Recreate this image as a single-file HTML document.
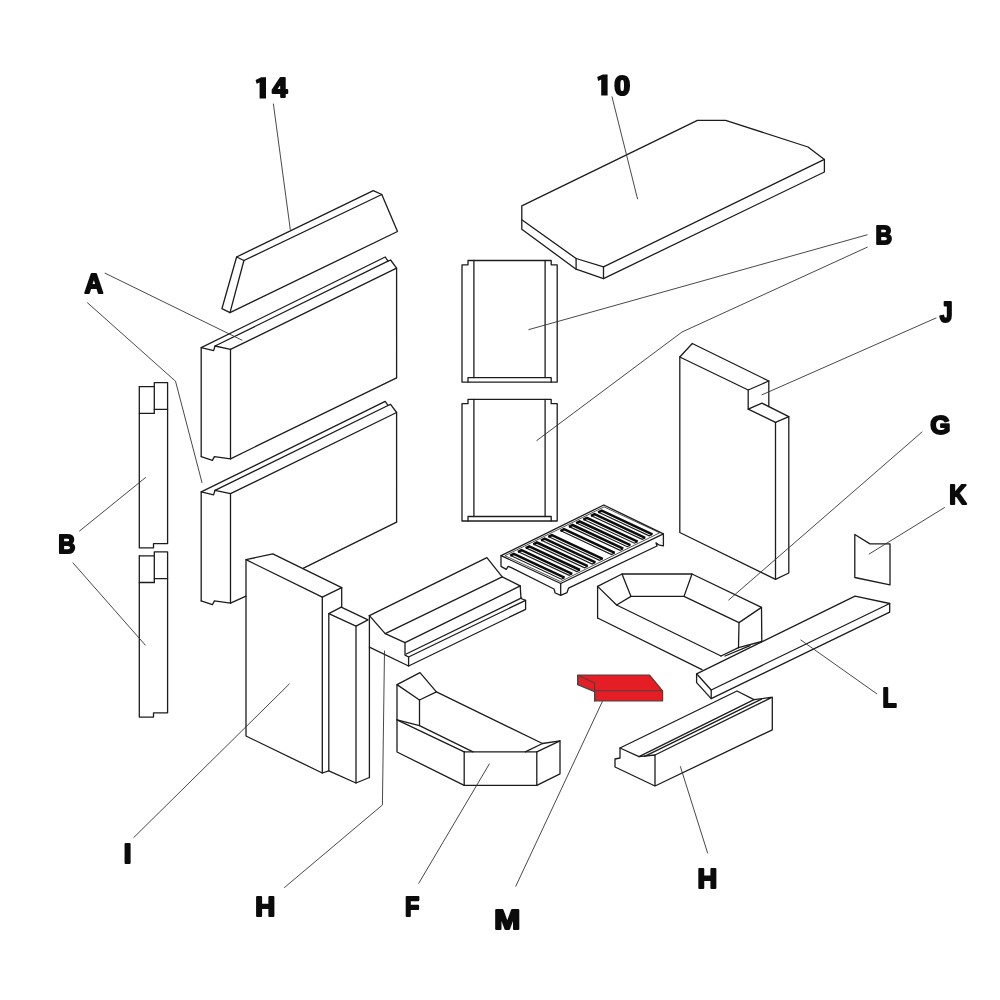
<!DOCTYPE html>
<html><head><meta charset="utf-8"><title>Diagram</title>
<style>
html,body{margin:0;padding:0;background:#fff;}
body{width:1000px;height:1000px;overflow:hidden;font-family:"Liberation Sans",sans-serif;}
svg{display:block}
.m{fill:none;stroke:#1c1c1c;stroke-width:1.3;stroke-linejoin:round;stroke-linecap:round}
.t{fill:none;stroke:#2a2a2a;stroke-width:.8;stroke-linejoin:round}
.s1{fill:none;stroke:#1a1a1a;stroke-width:1.2;stroke-linejoin:miter}
.s2{fill:none;stroke:#0c0c0c;stroke-width:2.5;stroke-linejoin:miter}
.l{fill:none;stroke:#333;stroke-width:.9;stroke-linecap:round}
.r{fill:#e51d25;stroke:#4d4040;stroke-width:1.2;stroke-linejoin:round}
.rl{fill:none;stroke:#4d4040;stroke-width:1.1;stroke-linecap:round}
text{font-family:"Liberation Sans",sans-serif;font-weight:bold;font-size:100px;fill:#0a0a0a;stroke:#0a0a0a;stroke-width:7.5;stroke-linejoin:round}
</style></head><body>
<svg width="1000" height="1000" viewBox="0 0 1000 1000">
<rect width="1000" height="1000" fill="#fff"/>

<path class="m" d="M236.6,257.0 L373.3,190.6 L381.8,194.5 L397.5,231.5 L230.0,312.7 L221.9,308.7 Z"/>
<path class="m" d="M236.6,257.0 L243.9,260.5"/>
<path class="m" d="M243.9,260.5 L381.8,194.5"/>
<path class="m" d="M243.9,260.5 L230.0,312.7"/>
<path class="m" d="M201.2,456.6 L201.2,347.6 L213.6,350.6 L215.0,346.0 L230.5,349.4"/>
<path class="m" d="M201.2,347.6 L385.2,257.0 L388.0,261.2 L390.6,260.0 L396.6,268.2"/>
<path class="m" d="M215.0,346.0 L388.0,261.2"/>
<path class="m" d="M230.5,349.4 L396.6,268.2 L396.6,377.8"/>
<path class="m" d="M230.5,349.4 L230.5,458.8"/>
<path class="m" d="M201.2,456.6 L212.4,460.4 L214.4,456.6 L230.5,458.8"/>
<path class="m" d="M230.5,458.8 L396.6,377.8"/>
<path class="m" d="M201.2,600.9 L201.2,491.9 L213.6,494.9 L215.0,490.3 L230.5,493.7"/>
<path class="m" d="M201.2,491.9 L385.2,401.3 L388.0,405.5 L390.6,404.3 L396.6,412.5"/>
<path class="m" d="M215.0,490.3 L388.0,405.5"/>
<path class="m" d="M230.5,493.7 L396.6,412.5 L396.6,522.1"/>
<path class="m" d="M230.5,493.7 L230.5,603.1"/>
<path class="m" d="M201.2,600.9 L212.4,604.7 L214.4,600.9 L230.5,603.1"/>
<path class="m" d="M230.5,603.1 L246.0,596.2"/>
<path class="m" d="M303.5,568.2 L396.6,522.1"/>
<path class="m" d="M139.3,386.6 L154.3,386.6"/>
<path class="m" d="M154.3,413.3 L154.3,382.6 L167.6,382.6 L167.6,543.6 L153.5,543.6 L153.5,547.9 L139.3,547.9 L139.3,386.6"/>
<path class="m" d="M139.3,413.3 L154.3,413.3"/>
<path class="m" d="M154.3,409.4 L167.6,409.4"/>
<path class="m" d="M139.3,555.8 L154.3,555.8"/>
<path class="m" d="M154.3,582.5 L154.3,551.8 L167.6,551.8 L167.6,712.8 L153.5,712.8 L153.5,717.1 L139.3,717.1 L139.3,555.8"/>
<path class="m" d="M139.3,582.5 L154.3,582.5"/>
<path class="m" d="M154.3,578.6 L167.6,578.6"/>
<path class="m" d="M462.0,382.1 L462.0,264.8 L468.0,264.8 L468.0,260.5 L551.2,260.5 L551.2,264.8 L557.2,264.8 L557.2,382.1 Z"/>
<path class="m" d="M473.9,260.5 L473.9,377.6"/>
<path class="m" d="M545.1,260.5 L545.1,377.6"/>
<path class="m" d="M468.0,382.1 L468.0,377.6 L551.2,377.6 L551.2,382.1"/>
<path class="m" d="M462.0,521.0 L462.0,403.7 L468.0,403.7 L468.0,399.4 L551.2,399.4 L551.2,403.7 L557.2,403.7 L557.2,521.0 Z"/>
<path class="m" d="M473.9,399.4 L473.9,516.5"/>
<path class="m" d="M545.1,399.4 L545.1,516.5"/>
<path class="m" d="M468.0,521.0 L468.0,516.5 L551.2,516.5 L551.2,521.0"/>
<path class="m" d="M521.8,205.8 L697.4,120.3 L725.6,120.3 L808.0,147.0 L824.4,159.4 L603.5,266.9 L576.1,258.5 L521.8,219.8 Z"/>
<path class="m" d="M521.8,219.8 L521.8,229.3 L576.1,269.2 L603.5,278.6 L824.4,172.0 L824.4,159.4"/>
<path class="m" d="M576.1,258.5 L576.1,269.2"/>
<path class="m" d="M603.5,266.9 L603.5,278.6"/>
<path class="m" d="M679.8,357.0 L692.3,343.5 L768.8,381.0 L748.2,390.0 Z"/>
<path class="m" d="M748.2,390.0 L748.2,409.2"/>
<path class="m" d="M768.8,381.0 L768.8,406.6"/>
<path class="m" d="M748.2,409.2 L762.0,403.2 L788.8,416.6 L775.5,422.3 Z"/>
<path class="m" d="M679.8,357.0 L679.8,532.5 L775.5,579.3 L788.8,573.0 L788.8,416.6"/>
<path class="m" d="M775.5,422.3 L775.5,579.3"/>
<path class="m" d="M854.8,534.5 L870.0,543.9 L890.0,543.9 L890.0,584.9 L854.8,577.5 Z"/>
<path class="m" d="M696.6,673.8 L855.0,596.2 L889.7,603.5 L711.2,690.0 Z"/>
<path class="m" d="M696.6,673.8 L696.6,682.6 L711.2,698.6 L889.7,612.2 L889.7,603.5"/>
<path class="m" d="M711.2,690.0 L711.2,698.6"/>
<path class="m" d="M597.6,586.4 L622.0,574.0 L692.0,574.0 L761.5,607.4 L739.0,622.6 L684.0,596.4 L631.0,596.4 L616.6,605.0 Z"/>
<path class="m" d="M622.0,574.0 L631.0,596.4"/>
<path class="m" d="M692.0,574.0 L684.0,596.4"/>
<path class="m" d="M616.6,605.0 L721.0,656.0"/>
<path class="m" d="M761.5,607.4 L761.8,641.5"/>
<path class="m" d="M739.0,622.6 L738.5,647.6"/>
<path class="m" d="M597.6,586.4 L597.6,618.0"/>
<path class="m" d="M597.6,618.0 L702.0,669.6"/>
<path class="m" d="M738.5,647.6 L761.8,641.5"/>
<path class="m" d="M721.0,656.0 L738.5,647.6"/>
<path class="m" d="M725.0,656.0 L750.0,645.6"/>
<path class="m" d="M655.0,786.0 L615.0,767.0 L615.0,759.0 L620.0,758.0 L620.0,748.0 L737.0,691.0 L754.0,699.6 L772.3,697.2 L772.3,729.8 L655.0,786.0 L655.0,755.0 L772.3,697.2"/>
<path class="m" d="M620.0,748.0 L639.0,756.6 L655.0,755.0"/>
<path class="m" d="M639.0,756.6 L754.0,699.6"/>
<path class="m" d="M644.6,756.4 L761.5,699.2"/>
<path class="m" d="M246.0,559.7 L272.8,553.8 L341.7,587.6 L322.3,597.1 Z"/>
<path class="m" d="M246.0,559.7 L246.0,736.0 L322.3,773.0 L322.3,597.1"/>
<path class="m" d="M341.7,587.6 L341.7,607.2"/>
<path class="m" d="M328.8,613.6 L341.2,607.2 L368.0,619.8 L356.0,626.1 Z"/>
<path class="m" d="M322.3,773.0 L328.8,770.8 L328.8,613.6"/>
<path class="m" d="M328.8,770.8 L356.0,783.0 L369.4,777.5"/>
<path class="m" d="M356.0,626.1 L356.0,783.0"/>
<path class="m" d="M369.4,615.6 L486.9,557.6 L502.2,576.9 L520.2,585.9 L521.0,598.5 L525.6,600.3 L525.6,609.3 L408.6,666.0 L369.4,647.1"/>
<path class="m" d="M369.4,615.6 L369.4,777.5"/>
<path class="m" d="M369.4,615.6 L385.2,633.6 L405.0,642.6 L405.0,655.2 L408.6,657.0 L408.6,666.0"/>
<path class="m" d="M385.2,633.6 L502.2,576.9"/>
<path class="m" d="M405.0,642.6 L520.2,585.9"/>
<path class="m" d="M406.2,654.0 L521.6,597.9"/>
<path class="m" d="M408.6,657.0 L525.6,600.3"/>
<path class="m" d="M397.0,684.6 L420.0,672.6 L436.4,691.8 L419.5,700.0 Z"/>
<path class="m" d="M419.5,700.0 L419.5,725.6"/>
<path class="m" d="M397.0,719.8 L419.5,725.6 L473.0,751.8"/>
<path class="m" d="M397.0,719.8 L464.2,751.8"/>
<path class="m" d="M397.0,684.6 L397.0,752.0 L464.2,785.4 L536.8,785.4 L560.0,773.8 L560.0,740.8 L536.8,751.8 L464.2,751.8"/>
<path class="m" d="M464.2,751.8 L464.2,785.4"/>
<path class="m" d="M536.8,751.8 L536.8,785.4"/>
<path class="m" d="M436.4,691.8 L542.5,743.5"/>
<path class="m" d="M542.5,743.5 L560.0,740.8"/>
<path class="m" d="M525.3,751.8 L542.5,743.5"/>
<path class="m" d="M501.0,555.6 L603.8,505.0 L663.4,533.9 L560.7,583.5 Z"/>
<path class="m" d="M501.0,555.6 L501.0,566.4 L506.2,569.4 L508.2,566.3 L510.8,567.4 L554.0,589.0 L555.2,593.0 L560.7,595.4 L567.0,592.6 L568.5,588.2 L657.0,546.0 L656.0,542.8 L658.6,544.8 L663.4,545.8 L663.4,533.9"/>
<path class="m" d="M560.7,583.5 L560.7,595.4"/>
<path class="t" d="M504.9,555.7 L604.0,506.9 L659.6,532.8 L560.5,581.6 Z"/>
<path class="s1" d="M510.6,555.5 L561.4,579.2 L564.5,577.6"/>
<path class="s2" d="M510.2,555.7 L513.8,553.9 L564.5,577.6"/>
<path class="s1" d="M518.3,551.7 L569.1,575.4 L572.2,573.8"/>
<path class="s2" d="M517.9,551.9 L521.5,550.1 L572.2,573.8"/>
<path class="s1" d="M526.0,547.9 L576.8,571.6 L580.0,570.0"/>
<path class="s2" d="M525.6,548.1 L529.2,546.3 L580.0,570.0"/>
<path class="s1" d="M533.7,544.1 L584.5,567.8 L587.7,566.2"/>
<path class="s2" d="M533.3,544.3 L536.9,542.5 L587.7,566.2"/>
<path class="s1" d="M541.4,540.3 L592.2,564.0 L595.4,562.4"/>
<path class="s2" d="M541.0,540.5 L544.6,538.7 L595.4,562.4"/>
<path class="s1" d="M548.7,536.7 L599.5,560.4 L602.7,558.8"/>
<path class="s2" d="M548.3,536.9 L551.9,535.1 L602.7,558.8"/>
<path class="s1" d="M560.8,530.8 L611.5,554.5 L614.7,552.9"/>
<path class="s2" d="M560.4,531.0 L564.0,529.2 L614.7,552.9"/>
<path class="s1" d="M569.3,526.6 L620.1,550.3 L623.2,548.7"/>
<path class="s2" d="M568.9,526.8 L572.5,525.0 L623.2,548.7"/>
<path class="s1" d="M576.5,523.0 L627.2,546.7 L630.4,545.2"/>
<path class="s2" d="M576.1,523.2 L579.7,521.5 L630.4,545.2"/>
<path class="s1" d="M583.7,519.5 L634.4,543.2 L637.6,541.6"/>
<path class="s2" d="M583.3,519.7 L586.9,517.9 L637.6,541.6"/>
<path class="s1" d="M591.3,515.7 L642.1,539.4 L645.2,537.9"/>
<path class="s2" d="M590.9,515.9 L594.5,514.2 L645.2,537.9"/>
<path class="s1" d="M598.5,512.2 L649.2,535.9 L652.4,534.3"/>
<path class="s2" d="M598.1,512.4 L601.7,510.6 L652.4,534.3"/>
<path class="l" d="M273.4,104.0 L290.3,229.5"/>
<path class="l" d="M612.0,96.8 L637.5,198.8"/>
<path class="l" d="M105.1,273.2 L242.0,340.2"/>
<path class="l" d="M87.5,302.8 L175.5,381.2 L202.0,482.6"/>
<path class="l" d="M79.6,531.0 L145.6,477.5"/>
<path class="l" d="M73.0,562.9 L145.2,645.0"/>
<path class="l" d="M867.2,234.8 L528.8,329.6"/>
<path class="l" d="M867.2,247.2 L682.0,332.0 L536.8,440.5"/>
<path class="l" d="M936.0,318.0 L762.0,394.8"/>
<path class="l" d="M922.0,432.0 L728.7,600.0"/>
<path class="l" d="M944.4,507.6 L869.2,554.0"/>
<path class="l" d="M876.8,693.8 L800.8,640.0"/>
<path class="l" d="M680.4,766.6 L707.6,853.0"/>
<path class="l" d="M602.6,701.0 L515.8,886.2"/>
<path class="l" d="M489.3,764.0 L418.8,883.2"/>
<path class="l" d="M384.5,651.0 L382.4,805.0 L284.5,887.5"/>
<path class="l" d="M289.3,684.0 L133.8,837.5"/>
<path class="r" d="M577.6,675 L649.4,675 L662.6,690.8 L662.6,701 L594.6,701 L594.6,691.6 L577.6,684.8 Z"/>
<path class="rl" d="M594.6,690.8 L662.6,690.8 M594.6,701 L594.6,683 L579.5,676 "/>
<g opacity="0.995">
<text transform="translate(272.35,97.36) scale(0.2720,0.2771)">4</text>
<text transform="translate(614.22,94.67) scale(0.2867,0.2803)">0</text>
<text transform="translate(84.45,292.99) scale(0.2583,0.2684)">A</text>
<text transform="translate(58.17,553.02) scale(0.2374,0.2614)">B</text>
<text transform="translate(875.48,244.22) scale(0.2302,0.2614)">B</text>
<text transform="translate(939.83,322.04) scale(0.2306,0.2865)">J</text>
<text transform="translate(930.34,433.77) scale(0.2596,0.2599)">G</text>
<text transform="translate(949.16,504.48) scale(0.2395,0.2723)">K</text>
<text transform="translate(882.48,707.00) scale(0.2314,0.2680)">L</text>
<text transform="translate(697.39,887.94) scale(0.2726,0.2839)">H</text>
<text transform="translate(123.68,863.15) scale(0.2766,0.2800)">I</text>
<text transform="translate(255.18,915.96) scale(0.2770,0.2774)">H</text>
<text transform="translate(404.97,915.68) scale(0.2353,0.2774)">F</text>
<text transform="translate(494.30,928.97) scale(0.3121,0.2735)">M</text>
</g>
<path fill="#0a0a0a" d="M266.0,77.2 L266.0,98.4 L259.6,98.4 L259.6,82.4 L256.6,83.7 L255.6,79.9 L261.2,77.2 Z"/>
<path fill="#0a0a0a" d="M607.6,74.4 L607.6,95.6 L601.2,95.6 L601.2,79.6 L598.2,80.9 L597.2,77.1 L602.8,74.4 Z"/>
</svg></body></html>
